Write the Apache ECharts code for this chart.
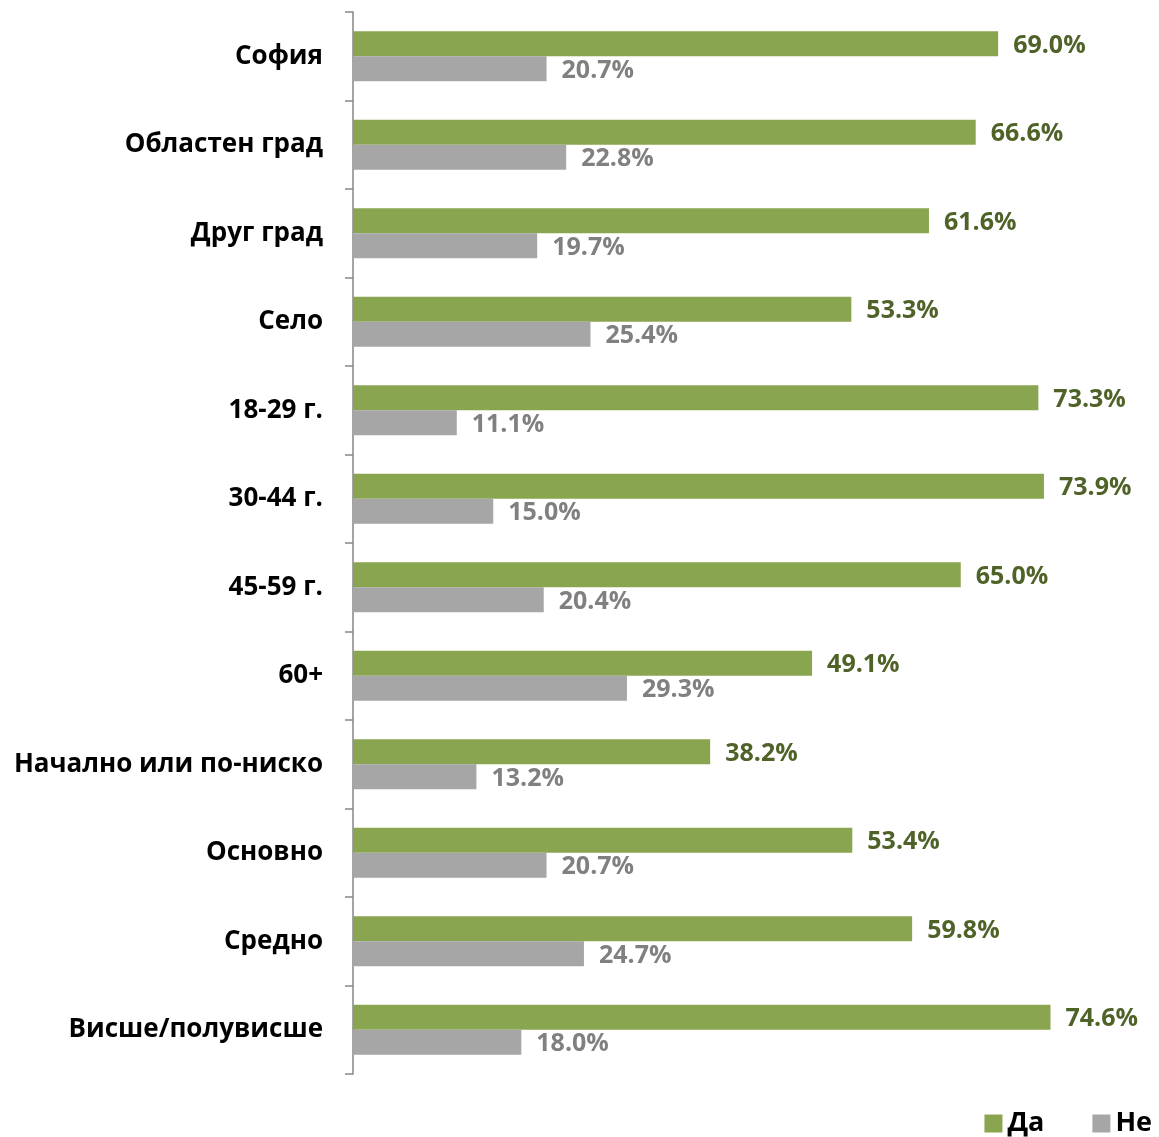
<!DOCTYPE html>
<html><head><meta charset="utf-8">
<script src="https://cdn.jsdelivr.net/npm/echarts@6/dist/echarts.min.js"></script>
<style>html,body{margin:0;padding:0;background:#fff}#c{width:1159px;height:1137px}</style>
</head><body><div id="c"></div>
<script>
const categories = ["София","Областен град","Друг град","Село","18-29 г.","30-44 г.","45-59 г.","60+","Начално или по-ниско","Основно","Средно","Висше/полувисше"];
const daValues = [69.0,66.6,61.6,53.3,73.3,73.9,65.0,49.1,38.2,53.4,59.8,74.6];
const neValues = [20.7,22.8,19.7,25.4,11.1,15.0,20.4,29.3,13.2,20.7,24.7,18.0];
const seriesNames = ["Да","Не"];

const font = "'Open Sans', 'Noto Sans', sans-serif";
const chart = echarts.init(document.getElementById('c'));
chart.setOption({
  animation:false,
  grid:{left:353,right:58,top:12,bottom:63,containLabel:false},
  legend:{
    right:2,top:1105,itemWidth:18,itemHeight:18,itemGap:48,icon:'rect',
    textStyle:{fontFamily:font,fontWeight:'bold',fontSize:27,color:'#000'},
    data:seriesNames
  },
  xAxis:{type:'value',min:0,max:80,show:false},
  yAxis:{
    type:'category',data:categories,inverse:true,
    axisLine:{show:true,lineStyle:{color:'#868686',width:1.5}},
    axisTick:{show:true,alignWithLabel:false,length:8,lineStyle:{color:'#868686',width:1.5}},
    axisLabel:{margin:30,fontFamily:font,fontWeight:'bold',fontSize:26,color:'#000'}
  },
  series:[
    {name:seriesNames[0],type:'bar',data:daValues,barWidth:25,barGap:'0%',
     itemStyle:{color:'#8aa54f'},
     label:{show:true,position:'right',distance:15,offset:[0,2],formatter:p=>p.value.toFixed(1)+'%',
       fontFamily:font,fontWeight:'bold',fontSize:25,color:'#4f6228'}},
    {name:seriesNames[1],type:'bar',data:neValues,barWidth:25,
     itemStyle:{color:'#a6a6a6'},
     label:{show:true,position:'right',distance:15,offset:[0,2],formatter:p=>p.value.toFixed(1)+'%',
       fontFamily:font,fontWeight:'bold',fontSize:25,color:'#808080'}}
  ]
});
</script></body></html>
